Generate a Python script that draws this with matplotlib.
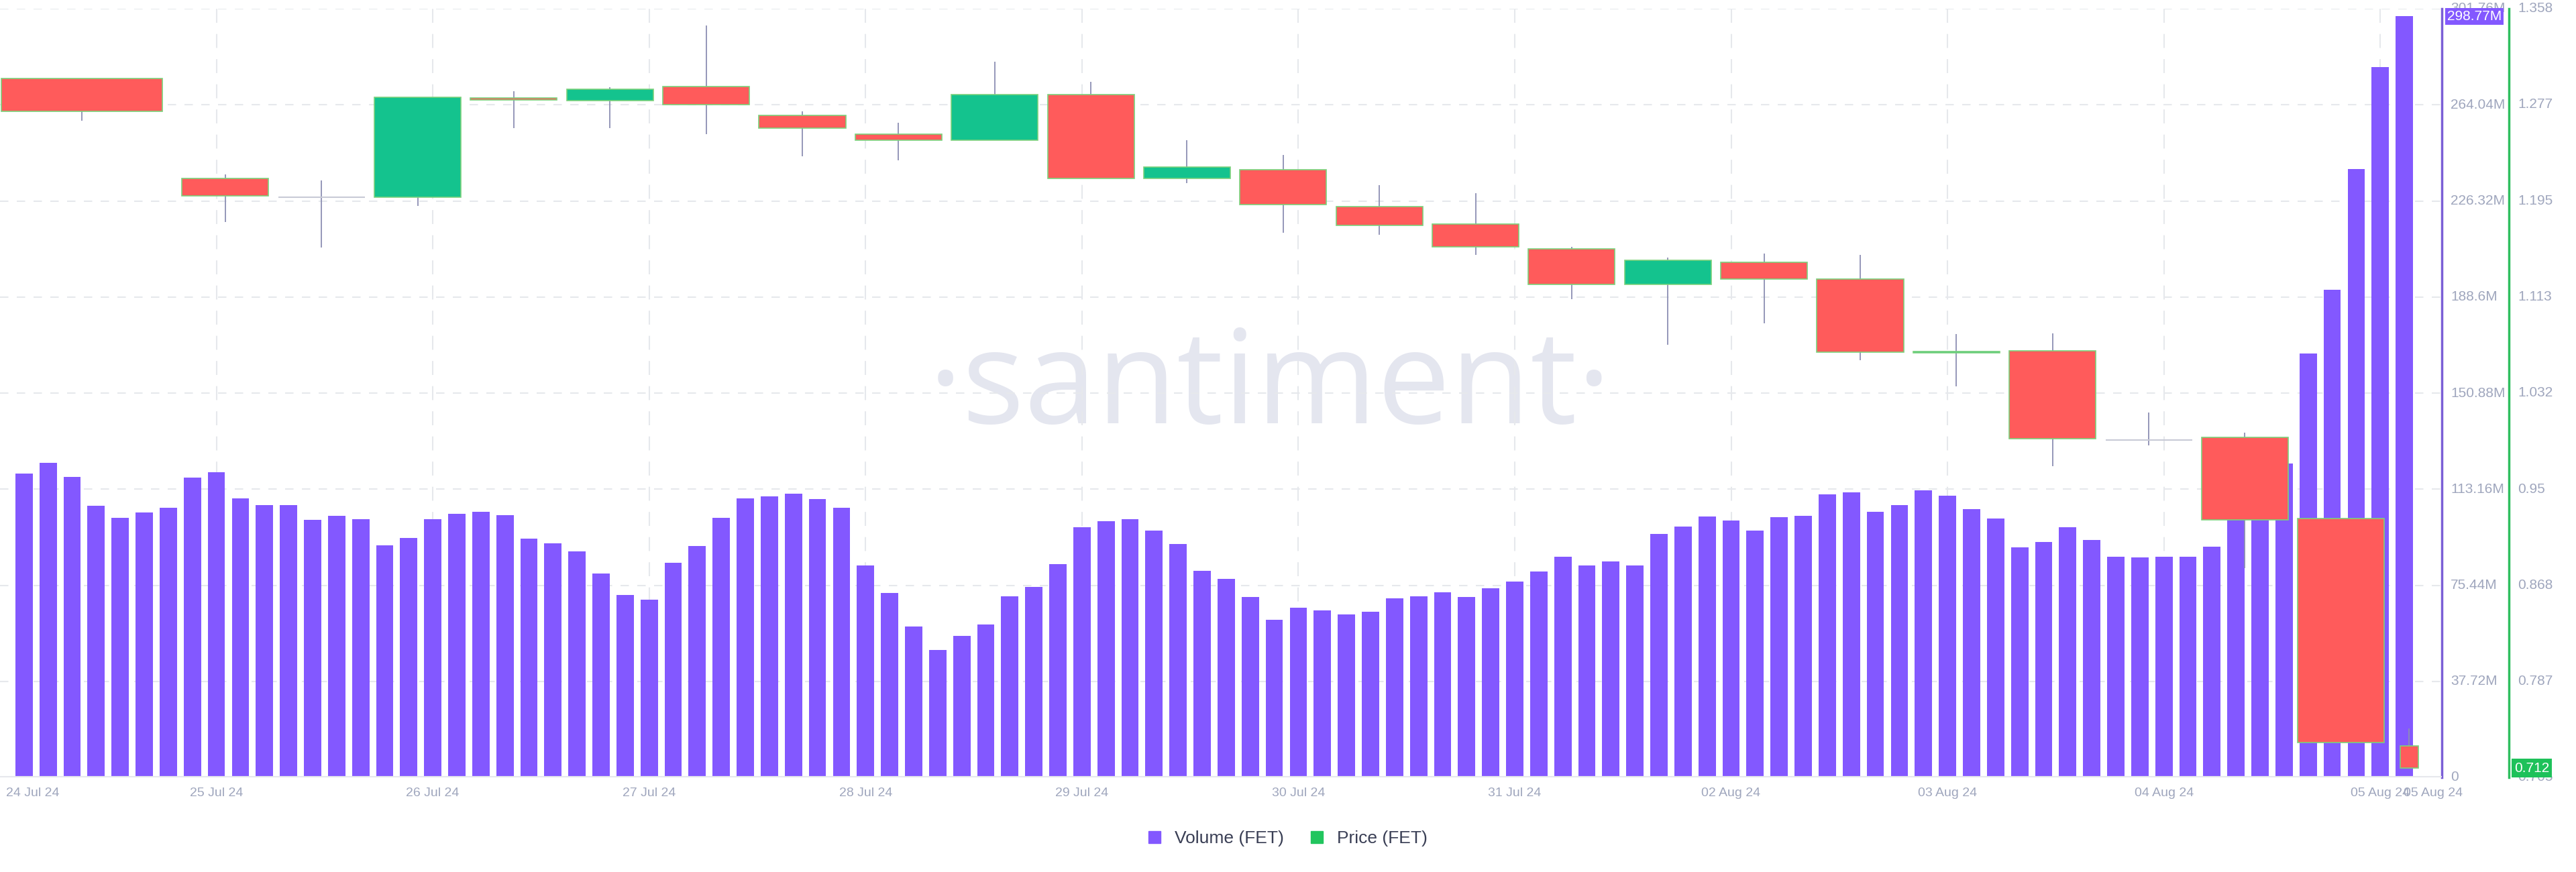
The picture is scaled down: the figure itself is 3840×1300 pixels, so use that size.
import matplotlib
matplotlib.use("Agg")
import matplotlib.pyplot as plt
from matplotlib.patches import Rectangle, Patch
import numpy as np

# ---------------- data ----------------
volume_m = [119.2,123.4,118.0,106.6,101.8,103.9,105.9,117.7,119.7,109.5,
            106.8,106.8,101.0,102.6,101.4,91.1,94.1,101.5,103.5,104.3,
            102.9,93.8,91.9,88.7,80.1,71.6,69.9,84.2,90.8,102.0,
            109.6,110.3,111.4,109.4,105.8,83.1,72.3,59.2,49.9,55.5,
            60.1,71.0,74.9,83.7,98.1,100.6,101.3,97.0,91.7,81.0,
            78.0,70.9,61.9,66.5,65.5,64.1,65.1,70.4,71.2,72.6,
            70.8,74.2,76.8,80.8,86.7,83.1,84.7,83.1,95.6,98.4,
            102.4,100.8,97.0,102.2,102.6,111.1,111.9,104.4,106.8,112.7,
            110.7,105.4,101.6,90.3,92.5,98.2,93.3,86.5,86.3,86.5,
            86.5,90.5,104.0,112.0,123.2,166.3,191.3,238.9,278.8,298.8]

candle_t = [2.4] + [8.37 + 4 * k for k in range(23)] + [99.2]
c_open  = [1.2988,1.2136,1.1978,1.1978,1.2822,1.2802,1.2917,1.2675,1.2517,1.2462,
           1.2853,1.2136,1.2210,1.1900,1.1750,1.1539,1.1238,1.1425,1.1286,1.0657,
           1.0675,0.9916,0.9938,0.9248,0.7320]
c_close = [1.2710,1.1989,1.1978,1.2828,1.2805,1.2896,1.2767,1.2563,1.2462,1.2853,
           1.2141,1.2238,1.1914,1.1740,1.1556,1.1238,1.1442,1.1281,1.0662,1.0666,
           0.9929,0.9916,0.9240,0.7347,0.7129]
c_high  = [1.2988,1.2170,1.2120,1.2828,1.2878,1.2914,1.3440,1.2708,1.2609,1.3128,
           1.2960,1.2464,1.2337,1.2080,1.2014,1.1560,1.1464,1.1500,1.1486,1.0815,
           1.0823,1.0147,0.9981,0.9248,0.7464]
c_low   = [1.2630,1.1768,1.1550,1.1907,1.2563,1.2563,1.2517,1.2327,1.2294,1.2462,
           1.2141,1.2101,1.1674,1.1660,1.1486,1.1115,1.0723,1.0906,1.0592,1.0374,
           0.9693,0.9868,0.8830,0.7347,0.7129]

date_labels = ["24 Jul 24","25 Jul 24","26 Jul 24","27 Jul 24","28 Jul 24","29 Jul 24",
               "30 Jul 24","31 Jul 24","02 Aug 24","03 Aug 24","04 Aug 24","05 Aug 24","05 Aug 24"]
date_pos = [-1, 8, 17, 26, 35, 44, 53, 62, 71, 80, 89, 98, 100.2]

vol_ticks = [0, 37.72, 75.44, 113.16, 150.88, 188.6, 226.32, 264.04, 301.76]
vol_labels = ["0","37.72M","75.44M","113.16M","150.88M","188.6M","226.32M","264.04M","301.76M"]
price_ticks = [0.705, 0.787, 0.868, 0.95, 1.032, 1.113, 1.195, 1.277, 1.358]
price_labels = ["0.705","0.787","0.868","0.95","1.032","1.113","1.195","1.277","1.358"]

# ---------------- styles ----------------
PURPLE = "#8358ff"
RED = "#ff5b5b"
GREEN = "#14c38e"
WICK = "#8c8fb3"
GRID = "#e6e8ec"
TXT = "#9fa6bd"
FONT = "Liberation Sans"

W, H = 3840, 1300
fig = plt.figure(figsize=(W / 100, H / 100), dpi=100)
L, R, T, B = 0, 3640, 13, 1159
ax = fig.add_axes([L / W, 1 - B / H, (R - L) / W, (B - T) / H])
ax2 = ax.twinx()

x = np.arange(len(volume_m))
ax.set_xlim(-1.0, 100.56)
ax.set_ylim(0, 301.76)
ax2.set_ylim(0.705, 1.358)

ax.bar(x, volume_m, width=0.72, color=PURPLE, zorder=2)

# watermark
ax.text(0.52, 0.505, "·santiment·", transform=ax.transAxes, ha="center", va="center",
        fontsize=140, color="#e4e6ef", family="Open Sans", zorder=0)

# candles
for i, t in enumerate(candle_t):
    o, c, h, lo = c_open[i], c_close[i], c_high[i], c_low[i]
    w = 3.6
    if i == 0:
        w = 6.7
    if i == len(candle_t) - 1:
        w = 0.75
    ax2.vlines(t, lo, h, color=WICK, lw=1.3, zorder=3)
    if abs(c - o) < 0.0008:
        ax2.hlines(o, t - w / 2, t + w / 2, color="#c8cad6", lw=1.5, zorder=4)
        continue
    col = GREEN if c > o else RED
    ax2.add_patch(Rectangle((t - w / 2, min(o, c)), w, abs(c - o), facecolor=col,
                            edgecolor="#7bd17b", lw=1.2, zorder=4))

# grid
for v in vol_ticks[1:]:
    ax.axhline(v, color=GRID, lw=1.5, ls=(0, (6, 6)), zorder=1)
for p in date_pos[1:-1]:
    ax.axvline(p, color=GRID, lw=1.5, ls=(0, (10, 8)), zorder=1)
ax.axhline(0, color="#e6e7ec", lw=3, zorder=5)

for a in (ax, ax2):
    for s in a.spines.values():
        s.set_visible(False)
    a.tick_params(length=0)
ax.set_yticks([])
ax2.set_yticks([])
ax.set_xticks([])

# x labels
for lab, p in zip(date_labels, date_pos):
    ha = "left" if p < 0 else "center"
    ax.text(p + (0.25 if p < 0 else 0), -0.013, lab, transform=ax.get_xaxis_transform(),
            ha=ha, va="top", fontsize=14, color=TXT, family=FONT)

# right axes
vtrans = ax.get_yaxis_transform()
ptrans = ax2.get_yaxis_transform()
ax.plot([1.0, 1.0], [0, 301.76], transform=vtrans, color="#7b5fd6", lw=2.5, clip_on=False)
ax.plot([1 + 100 / (R - L)] * 2, [0, 301.76], transform=vtrans, color="#2fbf5f", lw=2.5, clip_on=False)
vx = 1 + 13 / (R - L)
px = 1 + 113 / (R - L)
for v, lab in zip(vol_ticks, vol_labels):
    ax.text(vx, v, lab, transform=vtrans, ha="left", va="center", fontsize=15, color=TXT,
            family=FONT)
for v, lab in zip(price_ticks, price_labels):
    ax2.text(px, v, lab, transform=ptrans, ha="left", va="center", fontsize=15, color=TXT,
             family=FONT)
ax.text(1 + 8 / (R - L), volume_m[-1], "298.77M", transform=vtrans, ha="left", va="center",
        fontsize=15, color="white", family=FONT, zorder=10,
        bbox=dict(boxstyle="square,pad=0.15", fc=PURPLE, ec="none"))
ax2.text(1 + 108 / (R - L), c_close[-1], "0.712", transform=ptrans, ha="left", va="center",
         fontsize=15, color="white", family=FONT, zorder=10,
         bbox=dict(boxstyle="square,pad=0.2", fc="#1ec15a", ec="none"))

# legend
fig.legend(handles=[Patch(color=PURPLE, label="Volume (FET)"),
                    Patch(color="#22c55e", label="Price (FET)")],
           loc="center", bbox_to_anchor=(1920 / W, 1 - 1250 / H), ncol=2, frameon=False,
           handlelength=0.7, handleheight=0.7, columnspacing=1.5,
           labelcolor="#3a3f55", prop={"family": FONT, "size": 19})

fig.savefig("out.png", dpi=100)
